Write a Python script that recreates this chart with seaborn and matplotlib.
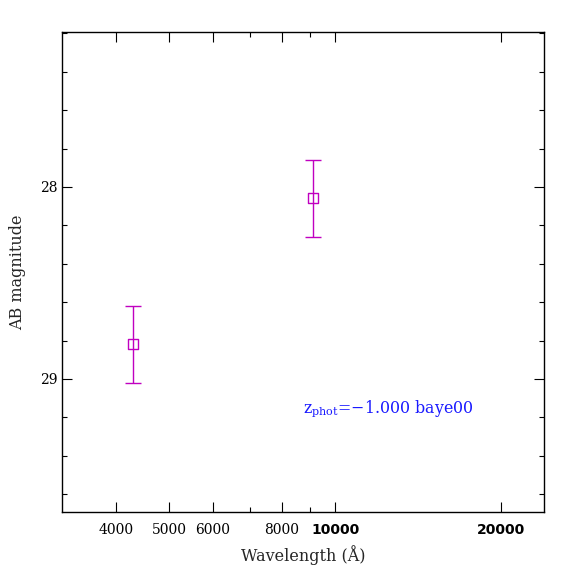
import numpy as np
import pandas as pd
import matplotlib
matplotlib.use('Agg')
import matplotlib.pyplot as plt
import seaborn as sns
from matplotlib.ticker import FixedLocator, NullFormatter

# photometry points
wavelength = [4300, 9120]
ab_mag = [28.82, 28.06]
mag_err = [0.20, 0.20]

x_ticks = [4000, 5000, 6000, 8000, 10000, 20000]
x_tick_labels = ['4000', '5000', '6000', '8000', '10000', '20000']
x_minor = [7000, 9000]
y_ticks = [28, 29]
y_minor = [27.2, 27.4, 27.6, 27.8, 28.2, 28.4, 28.6, 28.8, 29.2, 29.4, 29.6]

label_text = r'z$_{\rm phot}$=$-$1.000 baye00'

MAGENTA = '#c000c0'
BLUE = '#1a1aff'


def main():
    sns.set_style('ticks')
    plt.rcParams['font.family'] = ['DejaVu Serif']
    plt.rcParams['mathtext.fontset'] = 'dejavuserif'

    df = pd.DataFrame({'wave': wavelength, 'mag': ab_mag, 'err': mag_err})

    fig = plt.figure(figsize=(5.74, 5.74), dpi=100)
    ax = fig.add_axes([62 / 574, 62 / 574, 482 / 574, 480 / 574])

    ax.errorbar(df['wave'], df['mag'], yerr=df['err'], fmt='none',
                ecolor=MAGENTA, elinewidth=1.0, capsize=6, capthick=1.0)
    sns.scatterplot(data=df, x='wave', y='mag', ax=ax, marker='s', s=52,
                    facecolors='none', edgecolor=MAGENTA, linewidth=1.0,
                    legend=False)

    ax.set_xscale('log')
    ax.set_xlim(3195, 23940)
    ax.set_ylim(29.693, 27.193)

    ax.xaxis.set_major_locator(FixedLocator(x_ticks))
    ax.xaxis.set_minor_locator(FixedLocator(x_minor))
    ax.set_xticklabels(x_tick_labels)
    ax.xaxis.set_minor_formatter(NullFormatter())
    ax.yaxis.set_major_locator(FixedLocator(y_ticks))
    ax.yaxis.set_minor_locator(FixedLocator(y_minor))
    ax.set_yticklabels([str(v) for v in y_ticks])

    ax.tick_params(which='both', direction='in', top=True, right=True,
                   labelsize=10, colors='black')
    ax.tick_params(which='major', length=7, width=0.8)
    ax.tick_params(which='minor', length=3.5, width=0.8)
    ax.tick_params(axis='x', pad=8)
    for lab in ax.get_xticklabels():
        if lab.get_text() in ('10000', '20000'):
            lab.set_family('DejaVu Sans')
            lab.set_weight('bold')

    for sp in ax.spines.values():
        sp.set_linewidth(1.0)
        sp.set_color('black')

    ax.set_xlabel('Wavelength (Å)', fontsize=11.5, labelpad=6)
    ax.set_ylabel('AB magnitude', fontsize=11.5, labelpad=10)

    ax.text(8750, 29.175, label_text, color=BLUE, fontsize=11.4,
            ha='left', va='baseline')

    fig.savefig('out.png', dpi=100)
    plt.close(fig)


if __name__ == '__main__':
    main()
